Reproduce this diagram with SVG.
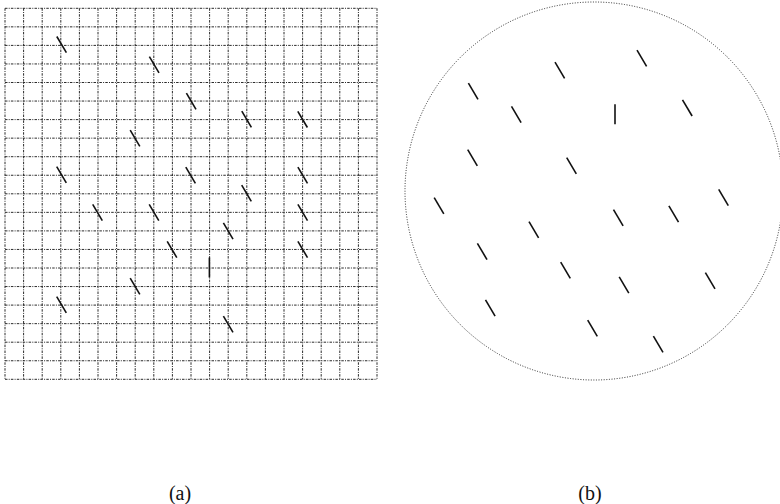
<svg xmlns="http://www.w3.org/2000/svg" xmlns:xlink="http://www.w3.org/1999/xlink" width="780" height="504" viewBox="0 0 780 504">
<style>
.grid{fill:none;stroke:#2a2a2a;stroke-width:1;stroke-dasharray:2.5 1.2 1 1.2}
.ring{fill:none;stroke:#2a2a2a;stroke-width:1;stroke-dasharray:1 1.6}
.tick{stroke:#111;stroke-width:1.6;stroke-linecap:butt}
.lbl{font-family:"Liberation Serif","Times New Roman",serif;font-size:20px;fill:#111;text-anchor:middle}
</style>
<defs>
<line id="t" class="tick" x1="-4.8" y1="-8.1" x2="4.8" y2="8.1"/>
<line id="v" class="tick" x1="0" y1="-10" x2="0" y2="10"/>
</defs>
<rect width="780" height="504" fill="#fff"/>
<g id="panel-a">
<path class="grid" d="M5 8.3V379.3M23.6 8.3V379.3M42.2 8.3V379.3M60.8 8.3V379.3M79.4 8.3V379.3M98 8.3V379.3M116.6 8.3V379.3M135.2 8.3V379.3M153.8 8.3V379.3M172.4 8.3V379.3M191 8.3V379.3M209.6 8.3V379.3M228.2 8.3V379.3M246.8 8.3V379.3M265.4 8.3V379.3M284 8.3V379.3M302.6 8.3V379.3M321.2 8.3V379.3M339.8 8.3V379.3M358.4 8.3V379.3M377 8.3V379.3"/>
<path class="grid" d="M5 8.3H377M5 26.85H377M5 45.4H377M5 63.95H377M5 82.5H377M5 101.05H377M5 119.6H377M5 138.15H377M5 156.7H377M5 175.25H377M5 193.8H377M5 212.35H377M5 230.9H377M5 249.45H377M5 268H377M5 286.55H377M5 305.1H377M5 323.65H377M5 342.2H377M5 360.75H377M5 379.3H377"/>
<use href="#t" x="61.6" y="44.6"/>
<use href="#t" x="154.2" y="64.8"/>
<use href="#t" x="191.2" y="101.2"/>
<use href="#t" x="246.6" y="119.2"/>
<use href="#t" x="302.6" y="119.4"/>
<use href="#t" x="135" y="138.2"/>
<use href="#t" x="61.5" y="174.7"/>
<use href="#t" x="190.6" y="175.3"/>
<use href="#t" x="302.7" y="175.3"/>
<use href="#t" x="246.5" y="193.3"/>
<use href="#t" x="97.5" y="212.5"/>
<use href="#t" x="154" y="212.5"/>
<use href="#t" x="302.7" y="212.5"/>
<use href="#t" x="228.2" y="231"/>
<use href="#t" x="172" y="249.5"/>
<use href="#t" x="302.7" y="249.5"/>
<use href="#v" x="209.4" y="267.5"/>
<use href="#t" x="135" y="286.3"/>
<use href="#t" x="61.5" y="304.7"/>
<use href="#t" x="228.2" y="324.2"/>
<text class="lbl" x="180" y="500">(a)</text>
</g>
<g id="panel-b">
<circle class="ring" cx="594" cy="191" r="189"/>
<use href="#t" x="473.2" y="91.3"/>
<use href="#t" x="559.8" y="70.3"/>
<use href="#t" x="641.8" y="58.2"/>
<use href="#t" x="516.3" y="114.5"/>
<use href="#v" x="615" y="114.2"/>
<use href="#t" x="687.3" y="107.9"/>
<use href="#t" x="472.5" y="157.7"/>
<use href="#t" x="571.5" y="165.7"/>
<use href="#t" x="723.5" y="197.5"/>
<use href="#t" x="439" y="205.7"/>
<use href="#t" x="533.8" y="229.8"/>
<use href="#t" x="618.3" y="217.7"/>
<use href="#t" x="673.7" y="214"/>
<use href="#t" x="482.2" y="251.5"/>
<use href="#t" x="565.5" y="270.2"/>
<use href="#t" x="624" y="285"/>
<use href="#t" x="710.2" y="280.7"/>
<use href="#t" x="490.3" y="308"/>
<use href="#t" x="592.5" y="328.3"/>
<use href="#t" x="658.2" y="344.2"/>
<text class="lbl" x="590" y="500">(b)</text>
</g>
</svg>
